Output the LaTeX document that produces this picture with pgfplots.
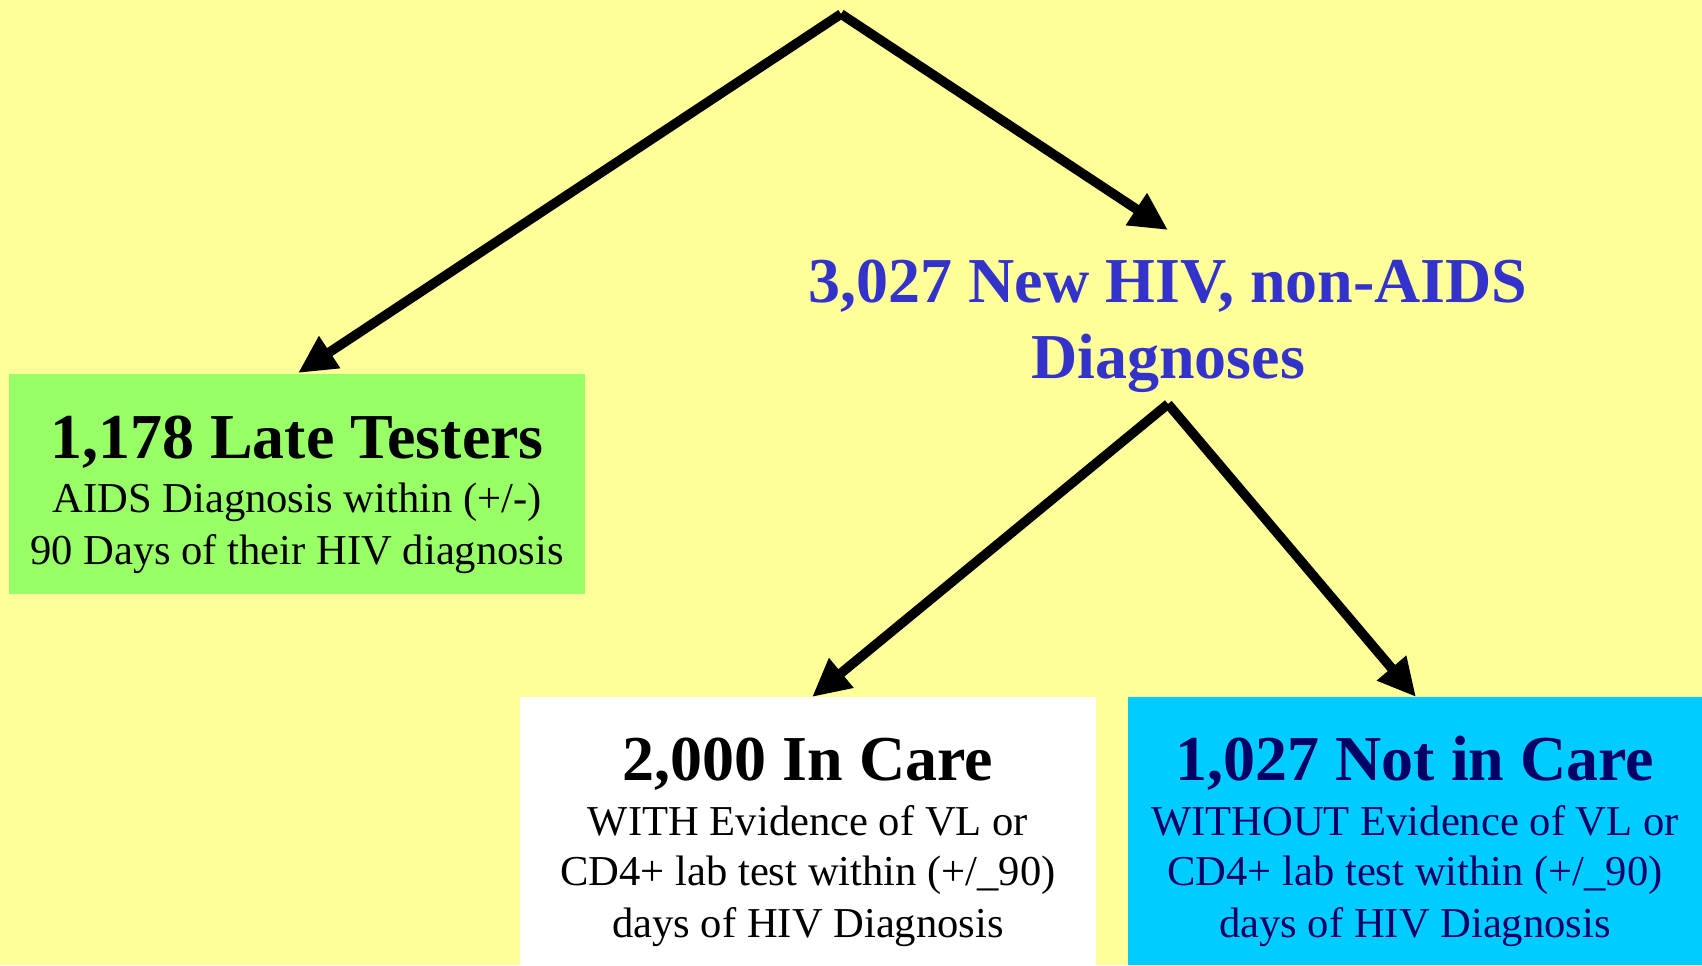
\documentclass[border=0pt]{standalone}
\usepackage{fontspec}
\setmainfont{Liberation Serif}
\usepackage{pgfplots}
\pgfplotsset{compat=1.18}
\usetikzlibrary{arrows.meta}
\definecolor{bgyellow}{HTML}{FFFF99}
\definecolor{boxgreen}{HTML}{99FF66}
\definecolor{boxcyan}{HTML}{00CCFF}
\definecolor{txtblue}{HTML}{3333CC}
\definecolor{txtnavy}{HTML}{000066}
\begin{document}
\begin{tikzpicture}
\begin{axis}[
  scale only axis, width=851pt, height=482.5pt,
  xmin=0, xmax=1702, ymin=0, ymax=965, y dir=reverse,
  axis lines=none, clip=true,
  axis background/.style={fill=bgyellow},
]
% boxes
\fill[boxgreen] (axis cs:9,374) rectangle (axis cs:585,594);
\fill[white] (axis cs:520,697) rectangle (axis cs:1096,965);
\fill[boxcyan] (axis cs:1128,697) rectangle (axis cs:1702,965);
% arrows
\addplot[black, line width=4.8pt, line join=miter, -{Triangle[length=19pt,width=18pt]}] coordinates {(841,14) (298,373)};
\addplot[black, line width=4.8pt, line join=miter, -{Triangle[length=19pt,width=18pt]}] coordinates {(841,14) (1168,230)};
\addplot[black, line width=4.8pt, -{Triangle[length=19pt,width=18pt]}] coordinates {(1168,404) (812,697)};
\addplot[black, line width=4.8pt, -{Triangle[length=19pt,width=18pt]}] coordinates {(1168,404) (1416,697)};
% texts
\node[anchor=base, inner sep=0, txtblue, font=\fontsize{32pt}{38pt}\selectfont\bfseries] at (axis cs:1168,302) {3,027 New HIV, non-AIDS};
\node[anchor=base, inner sep=0, txtblue, font=\fontsize{32pt}{38pt}\selectfont\bfseries] at (axis cs:1168,378) {Diagnoses};
% green box
\node[anchor=base, inner sep=0, font=\fontsize{32pt}{38pt}\selectfont\bfseries] at (axis cs:297,458) {1,178 Late Testers};
\node[anchor=base, inner sep=0, font=\fontsize{21.3pt}{25pt}\selectfont] at (axis cs:297,512) {AIDS Diagnosis within (+/-)};
\node[anchor=base, inner sep=0, font=\fontsize{21.3pt}{25pt}\selectfont] at (axis cs:297,564) {90 Days of their HIV diagnosis};
% white box
\node[anchor=base, inner sep=0, font=\fontsize{32pt}{38pt}\selectfont\bfseries] at (axis cs:808,780) {2,000 In Care};
\node[anchor=base, inner sep=0, font=\fontsize{21.3pt}{25pt}\selectfont] at (axis cs:808,835) {WITH Evidence of VL or};
\node[anchor=base, inner sep=0, font=\fontsize{21.3pt}{25pt}\selectfont] at (axis cs:808,885) {CD4+ lab test within (+/\_90)};
\node[anchor=base, inner sep=0, font=\fontsize{21.3pt}{25pt}\selectfont] at (axis cs:808,937) {days of HIV Diagnosis};
% cyan box
\node[anchor=base, inner sep=0, txtnavy, font=\fontsize{32pt}{38pt}\selectfont\bfseries] at (axis cs:1415,780) {1,027 Not in Care};
\node[anchor=base, inner sep=0, txtnavy, font=\fontsize{21.3pt}{25pt}\selectfont] at (axis cs:1415,835) {WITHOUT Evidence of VL or};
\node[anchor=base, inner sep=0, txtnavy, font=\fontsize{21.3pt}{25pt}\selectfont] at (axis cs:1415,885) {CD4+ lab test within (+/\_90)};
\node[anchor=base, inner sep=0, txtnavy, font=\fontsize{21.3pt}{25pt}\selectfont] at (axis cs:1415,937) {days of HIV Diagnosis};
\end{axis}
\pgfresetboundingbox
\path (current axis.south west) rectangle (current axis.north east);
\end{tikzpicture}
\end{document}
